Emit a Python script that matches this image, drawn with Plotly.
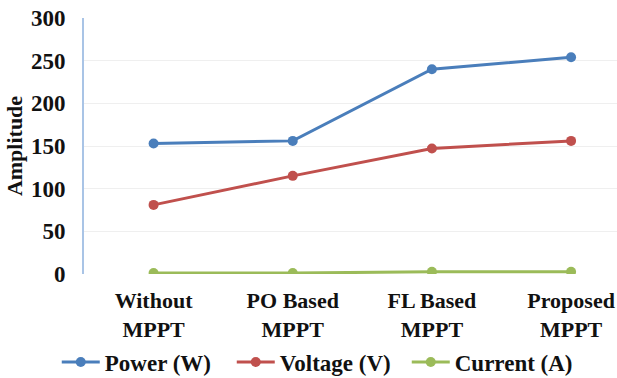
import plotly.graph_objects as go

categories = ["Without<br>MPPT", "PO Based<br>MPPT", "FL Based<br>MPPT", "Proposed<br>MPPT"]
power = [153, 156, 240, 254]
voltage = [81, 115, 147, 156]
current = [1.2, 1.2, 2.5, 2.5]
y_ticks = [0, 50, 100, 150, 200, 250, 300]

series = [("Power (W)", power, "#4A7EBB"), ("Voltage (V)", voltage, "#C0504D"), ("Current (A)", current, "#9BBB59")]

FAM = "Liberation Serif"

fig = go.Figure()
for name, vals, col in series:
    fig.add_trace(go.Scatter(x=list(range(len(categories))), y=vals, name=name, mode="lines+markers",
                             line=dict(color=col, width=3), marker=dict(color=col, size=10)))

fig.update_layout(
    width=617, height=378, margin=dict(l=84, r=0, t=18, b=104, autoexpand=False),
    plot_bgcolor="white", paper_bgcolor="white",
    font=dict(family=FAM, size=21, color="#111111", weight="bold"),
    showlegend=True,
    legend=dict(orientation="h", x=0.092, xref="container", xanchor="left", y=0.042, yref="container", yanchor="middle",
                itemwidth=38, entrywidth=122, entrywidthmode="pixels",
                font=dict(family=FAM, size=23, color="#111111", weight="bold"),
                tracegroupgap=0, traceorder="normal"),
)
fig.update_xaxes(tickmode="array", tickvals=list(range(len(categories))), ticktext=categories,
                 range=[-0.5, 3.33], showgrid=False, zeroline=False, showline=False,
                 ticks="outside", ticklen=7, tickcolor="rgba(0,0,0,0)",
                 tickfont=dict(family=FAM, size=22, color="#111111", weight="bold"))
fig.update_yaxes(range=[0, 300], tickvals=y_ticks, showgrid=True, gridcolor="#EFEFEF", gridwidth=1,
                 zeroline=False, showline=True, linecolor="#A9C4E6", linewidth=2,
                 ticks="outside", ticklen=12, tickcolor="rgba(0,0,0,0)",
                 tickfont=dict(family=FAM, size=23, color="#111111", weight="bold"),
                 title=dict(text="Amplitude", font=dict(family=FAM, size=22, color="#111111", weight="bold"), standoff=2))

fig.write_html("out.html")
